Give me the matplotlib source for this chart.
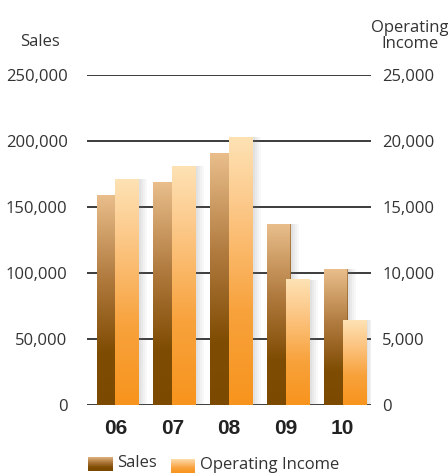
import numpy as np
import matplotlib.pyplot as plt
from matplotlib.colors import LinearSegmentedColormap

# data
years = ['06', '07', '08', '09', '10']
sales = [159000, 168700, 190900, 137100, 103000]
operating_income = [17100, 18100, 20300, 9500, 6400]

left_ticks = [0, 50000, 100000, 150000, 200000, 250000]
right_ticks = [0, 5000, 10000, 15000, 20000, 25000]

sales_cmap = LinearSegmentedColormap.from_list(
    'sales', [(0, '#7b4a00'), (0.25, '#7f4c03'), (0.6, '#b07a3e'), (1, '#e9be8b')])
oi_cmap = LinearSegmentedColormap.from_list(
    'oi', [(0, '#f7941d'), (0.35, '#f8a23c'), (0.75, '#fcc98a'), (1, '#fee2b4')])

font_light = ['Open Sans', 'DejaVu Sans']
font_bold = ['Liberation Sans Narrow', 'Liberation Sans', 'DejaVu Sans']
txt = '#333333'
fs = 12

fig = plt.figure(figsize=(4.48, 4.73), dpi=100)
ax = fig.add_axes([0.1942, 0.1438, 0.634, 0.6977])
ax2 = ax.twinx()

grad = np.linspace(0, 1, 256).reshape(-1, 1)


def gradient_bar(axis, x0, w, h, cmap, z):
    # soft grey shadow on the right
    for k, a in enumerate([0.22, 0.16, 0.1, 0.05]):
        axis.bar(x0 + w + k * 0.035, h, width=0.035, align='edge',
                 color='#777777', alpha=a, zorder=z - 0.5, linewidth=0)
    axis.imshow(grad, cmap=cmap, origin='lower', aspect='auto',
                extent=(x0, x0 + w, 0, h), zorder=z, interpolation='bicubic')


bw = 0.42
for i in range(len(years)):
    gradient_bar(ax, i - 0.33, bw, sales[i], sales_cmap, 3)
    ax.plot([i - 0.33 + bw - 0.01] * 2, [0, sales[i]], color='#6a3c00',
            lw=0.6, alpha=0.5, zorder=3.2)
for i in range(len(years)):
    # operating income drawn on the sales scale (x10) so it sits above sales bars
    gradient_bar(ax, i + 0.0, bw, operating_income[i] * 10, oi_cmap, 4)

for t in left_ticks:
    ax.axhline(t, color='#1a1a1a', lw=1.2, zorder=1)

ax.set_xlim(-0.5, 4.5)
ax.set_ylim(0, 250000)
ax2.set_ylim(0, 25000)

ax.set_xticks(range(len(years)))
ax.set_xticklabels(years, fontsize=15, fontweight='bold', family=font_bold,
                   color='#222222')
ax.set_yticks(left_ticks)
ax.set_yticklabels([f'{v:,}' for v in left_ticks], fontsize=fs,
                   family=font_light, color=txt)
ax2.set_yticks(right_ticks)
ax2.set_yticklabels([f'{v:,}' for v in right_ticks], fontsize=fs,
                    family=font_light, color=txt)
ax.tick_params(axis='x', length=0, pad=10)
ax.tick_params(axis='y', length=0, pad=14)
ax2.tick_params(axis='y', length=0, pad=8)
for a in (ax, ax2):
    for s in a.spines.values():
        s.set_visible(False)
ax.set_zorder(2)
ax2.set_zorder(1)
ax.patch.set_visible(False)

fig.text(40 / 448, 1 - 42 / 473, 'Sales', ha='center', va='center',
         fontsize=fs, family=font_light, color=txt)
fig.text(410 / 448, 1 - 36 / 473, 'Operating\nIncome', ha='center',
         va='center', fontsize=fs, family=font_light, color=txt,
         linespacing=1.0)

# legend: gradient swatches + labels
sw1 = fig.add_axes([88 / 448, 1 - 471 / 473, 25 / 448, 14 / 473])
sw1.imshow(grad, cmap=sales_cmap, origin='lower', aspect='auto')
sw1.axis('off')
fig.text(117 / 448, 1 - 463 / 473, 'Sales', ha='left', va='center',
         fontsize=fs, family=font_light, color=txt)
sw2 = fig.add_axes([171 / 448, 1 - 473 / 473, 24 / 448, 14 / 473])
sw2.imshow(grad, cmap=oi_cmap, origin='lower', aspect='auto')
sw2.axis('off')
fig.text(200 / 448, 1 - 465 / 473, 'Operating Income', ha='left',
         va='center', fontsize=fs, family=font_light, color=txt)

fig.savefig('out.png', dpi=100)
